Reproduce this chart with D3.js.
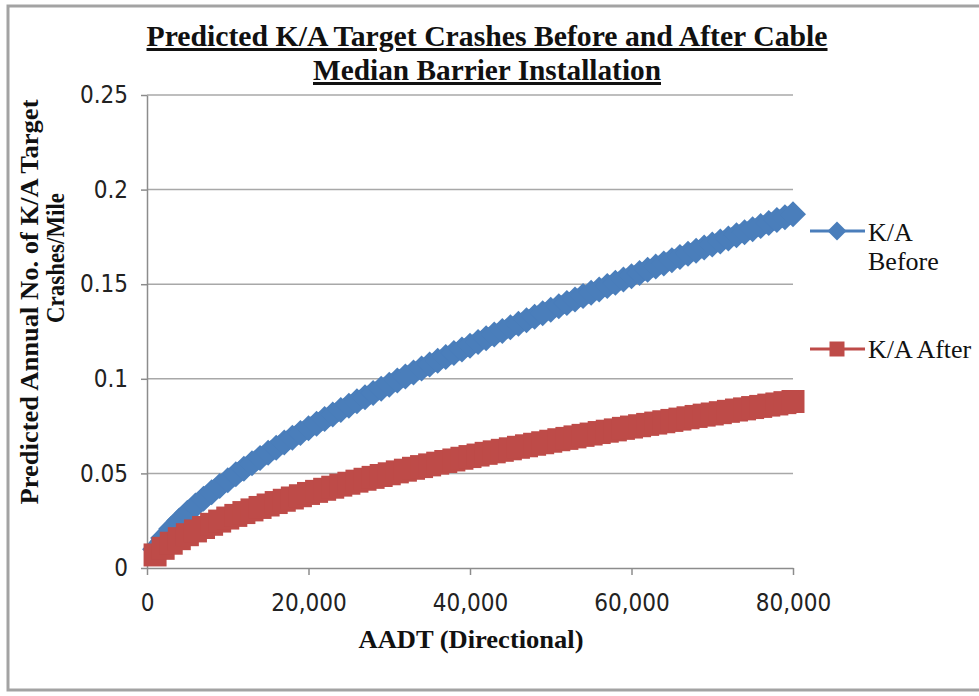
<!DOCTYPE html>
<html>
<head>
<meta charset="utf-8">
<script src="https://cdn.jsdelivr.net/npm/d3@7"></script>
<style>
  body { margin: 0; background: #fff; }
  svg { display: block; }
</style>
</head>
<body>
<div id="chart"></div>
<script>
// AADT values (directional), one point every 1,000
var aadt = d3.range(1000, 80001, 1000);

// predicted K/A target crashes per mile
var kaBefore = [0.0099, 0.0158, 0.0207, 0.0251, 0.0292, 0.0330, 0.0366, 0.0400, 0.0433, 0.0464,
                0.0495, 0.0525, 0.0553, 0.0582, 0.0609, 0.0636, 0.0663, 0.0688, 0.0714, 0.0739,
                0.0763, 0.0787, 0.0811, 0.0835, 0.0858, 0.0881, 0.0903, 0.0925, 0.0948, 0.0969,
                0.0991, 0.1012, 0.1033, 0.1054, 0.1075, 0.1095, 0.1115, 0.1136, 0.1155, 0.1175,
                0.1195, 0.1214, 0.1234, 0.1253, 0.1272, 0.1291, 0.1309, 0.1328, 0.1347, 0.1365,
                0.1383, 0.1401, 0.1419, 0.1437, 0.1455, 0.1472, 0.1490, 0.1508, 0.1525, 0.1542,
                0.1559, 0.1576, 0.1593, 0.1610, 0.1627, 0.1644, 0.1661, 0.1677, 0.1694, 0.1710,
                0.1726, 0.1742, 0.1759, 0.1775, 0.1791, 0.1807, 0.1823, 0.1839, 0.1854, 0.1870];

var kaAfter = [0.0069, 0.0104, 0.0131, 0.0155, 0.0176, 0.0196, 0.0214, 0.0231, 0.0248, 0.0264,
               0.0278, 0.0293, 0.0307, 0.0320, 0.0333, 0.0346, 0.0358, 0.0370, 0.0382, 0.0394,
               0.0405, 0.0416, 0.0427, 0.0438, 0.0448, 0.0459, 0.0469, 0.0479, 0.0489, 0.0498,
               0.0508, 0.0517, 0.0527, 0.0536, 0.0545, 0.0554, 0.0563, 0.0571, 0.0580, 0.0589,
               0.0597, 0.0606, 0.0614, 0.0622, 0.0630, 0.0638, 0.0646, 0.0654, 0.0662, 0.0670,
               0.0678, 0.0685, 0.0693, 0.0701, 0.0708, 0.0716, 0.0723, 0.0730, 0.0738, 0.0745,
               0.0752, 0.0759, 0.0766, 0.0773, 0.0780, 0.0787, 0.0794, 0.0801, 0.0808, 0.0814,
               0.0821, 0.0828, 0.0835, 0.0841, 0.0848, 0.0854, 0.0861, 0.0867, 0.0874, 0.0880];

var xTicks = [0, 20000, 40000, 60000, 80000];
var xTickLabels = ["0", "20,000", "40,000", "60,000", "80,000"];
var yTicks = [0, 0.05, 0.1, 0.15, 0.2, 0.25];
var yTickLabels = ["0", "0.05", "0.1", "0.15", "0.2", "0.25"];

var seriesNames = ["K/A Before", "K/A After"];

function init() {

    var w = 979;
    var h = 696;

    var blue = "#4a7ebb";
    var red = "#be4b48";
    var serif = "'Liberation Serif', 'Times New Roman', serif";
    var narrow = "'DejaVu Sans Condensed', 'DejaVu Sans', sans-serif";

    var xScale = d3.scaleLinear()
                   .domain([0, 80000])
                   .range([147, 793]);

    var yScale = d3.scaleLinear()
                   .domain([0, 0.25])
                   .range([568, 95]);

    var svg = d3.select("#chart")
                .append("svg")
                .attr("width", w)
                .attr("height", h);

    // outer chart border
    svg.append("rect")
       .attr("x", 8)
       .attr("y", 6)
       .attr("width", 1000)
       .attr("height", 684)
       .attr("fill", "none")
       .attr("stroke", "#a3a3a3")
       .attr("stroke-width", 3);

    // gridlines
    svg.selectAll("line.grid")
       .data(yTicks.slice(1))
       .enter()
       .append("line")
       .attr("class", "grid")
       .attr("x1", xScale(0))
       .attr("x2", xScale(80000))
       .attr("y1", function(d) { return yScale(d); })
       .attr("y2", function(d) { return yScale(d); })
       .attr("stroke", "#a8a8a8")
       .attr("stroke-width", 1.5);

    var xAxis = d3.axisBottom(xScale)
                  .tickValues(xTicks)
                  .tickFormat(function(d, i) { return xTickLabels[i]; })
                  .tickSizeInner(7)
                  .tickSizeOuter(0)
                  .tickPadding(19);

    var yAxis = d3.axisLeft(yScale)
                  .tickValues(yTicks)
                  .tickFormat(function(d, i) { return yTickLabels[i]; })
                  .tickSizeInner(6)
                  .tickSizeOuter(0)
                  .tickPadding(13);

    var gx = svg.append("g")
                .attr("transform", "translate(0," + yScale(0) + ")")
                .call(xAxis);

    var gy = svg.append("g")
                .attr("transform", "translate(" + xScale(0) + ",0)")
                .call(yAxis);

    [gx, gy].forEach(function(g) {
        g.select(".domain").attr("stroke", "#8c8c8c").attr("stroke-width", 1.5);
        g.selectAll(".tick line").attr("stroke", "#8c8c8c").attr("stroke-width", 1.5);
        g.selectAll(".tick text")
         .attr("fill", "#222")
         .style("font-family", narrow)
         .style("font-size", "24px");
    });

    // series: markers are so dense they merge into a thick band
    var line = d3.line()
                 .x(function(d) { return xScale(d[0]); })
                 .y(function(d) { return yScale(d[1]); });

    var series = [
        { name: seriesNames[0], values: kaBefore, color: blue, shape: "diamond", lw: 18 },
        { name: seriesNames[1], values: kaAfter, color: red, shape: "square", lw: 21 }
    ];

    var diamond = d3.symbol().type(d3.symbolSquare).size(338);
    var square = d3.symbol().type(d3.symbolSquare).size(529);

    series.forEach(function(s) {
        var pts = aadt.map(function(a, i) { return [a, s.values[i]]; });

        svg.append("path")
           .datum(pts)
           .attr("d", line)
           .attr("fill", "none")
           .attr("stroke", s.color)
           .attr("stroke-width", s.lw);

        svg.append("g")
           .selectAll("path")
           .data(pts)
           .enter()
           .append("path")
           .attr("d", s.shape == "diamond" ? diamond : square)
           .attr("transform", function(d) {
               return "translate(" + xScale(d[0]) + "," + yScale(d[1]) + ")" +
                      (s.shape == "diamond" ? " rotate(45)" : "");
           })
           .attr("fill", s.color);
    });

    // legend
    var legendY = [231, 349];
    var legendDiamond = d3.symbol().type(d3.symbolSquare).size(180);
    var legendSquare = d3.symbol().type(d3.symbolSquare).size(225);

    series.forEach(function(s, i) {
        svg.append("line")
           .attr("x1", 810)
           .attr("x2", 865)
           .attr("y1", legendY[i])
           .attr("y2", legendY[i])
           .attr("stroke", s.color)
           .attr("stroke-width", 3);

        svg.append("path")
           .attr("d", s.shape == "diamond" ? legendDiamond : legendSquare)
           .attr("transform", "translate(837," + legendY[i] + ")" +
                 (s.shape == "diamond" ? " rotate(45)" : ""))
           .attr("fill", s.color);
    });

    var leg1 = svg.append("text")
                  .attr("x", 868)
                  .attr("y", 241)
                  .attr("fill", "#111")
                  .style("font-family", serif)
                  .style("font-size", "26px");
    leg1.append("tspan").attr("x", 868).text("K/A");
    leg1.append("tspan").attr("x", 868).attr("dy", 29).text("Before");

    svg.append("text")
       .attr("x", 868)
       .attr("y", 358)
       .attr("fill", "#111")
       .style("font-family", serif)
       .style("font-size", "26px")
       .text("K/A After");

    // title
    var titleLines = ["Predicted K/A Target Crashes Before and After Cable",
                      "Median Barrier Installation"];
    var titleLen = [681, 348];
    var titleY = [46, 80];

    svg.selectAll("text.title")
       .data(titleLines)
       .enter()
       .append("text")
       .attr("class", "title")
       .attr("x", 487)
       .attr("y", function(d, i) { return titleY[i]; })
       .attr("text-anchor", "middle")
       .attr("textLength", function(d, i) { return titleLen[i]; })
       .attr("lengthAdjust", "spacingAndGlyphs")
       .attr("fill", "#111")
       .style("font-family", serif)
       .style("font-size", "30px")
       .style("font-weight", "bold")
       .style("text-decoration", "underline")
       .text(function(d) { return d; });

    // x axis title
    svg.append("text")
       .attr("x", 471)
       .attr("y", 648)
       .attr("text-anchor", "middle")
       .attr("textLength", 225)
       .attr("lengthAdjust", "spacingAndGlyphs")
       .attr("fill", "#111")
       .style("font-family", serif)
       .style("font-size", "26px")
       .style("font-weight", "bold")
       .text("AADT (Directional)");

    // y axis title
    var yTitle = ["Predicted Annual No. of K/A Target", "Crashes/Mile"];
    var yTitleX = [38, 64];
    var yTitleC = [302, 258];
    var yTitleLen = [405, 130];

    svg.selectAll("text.ytitle")
       .data(yTitle)
       .enter()
       .append("text")
       .attr("class", "ytitle")
       .attr("transform", function(d, i) {
           return "translate(" + yTitleX[i] + "," + yTitleC[i] + ") rotate(-90)";
       })
       .attr("text-anchor", "middle")
       .attr("textLength", function(d, i) { return yTitleLen[i]; })
       .attr("lengthAdjust", "spacingAndGlyphs")
       .attr("fill", "#111")
       .style("font-family", serif)
       .style("font-size", "25px")
       .style("font-weight", "bold")
       .text(function(d) { return d; });
}

window.onload = init;
</script>
</body>
</html>
